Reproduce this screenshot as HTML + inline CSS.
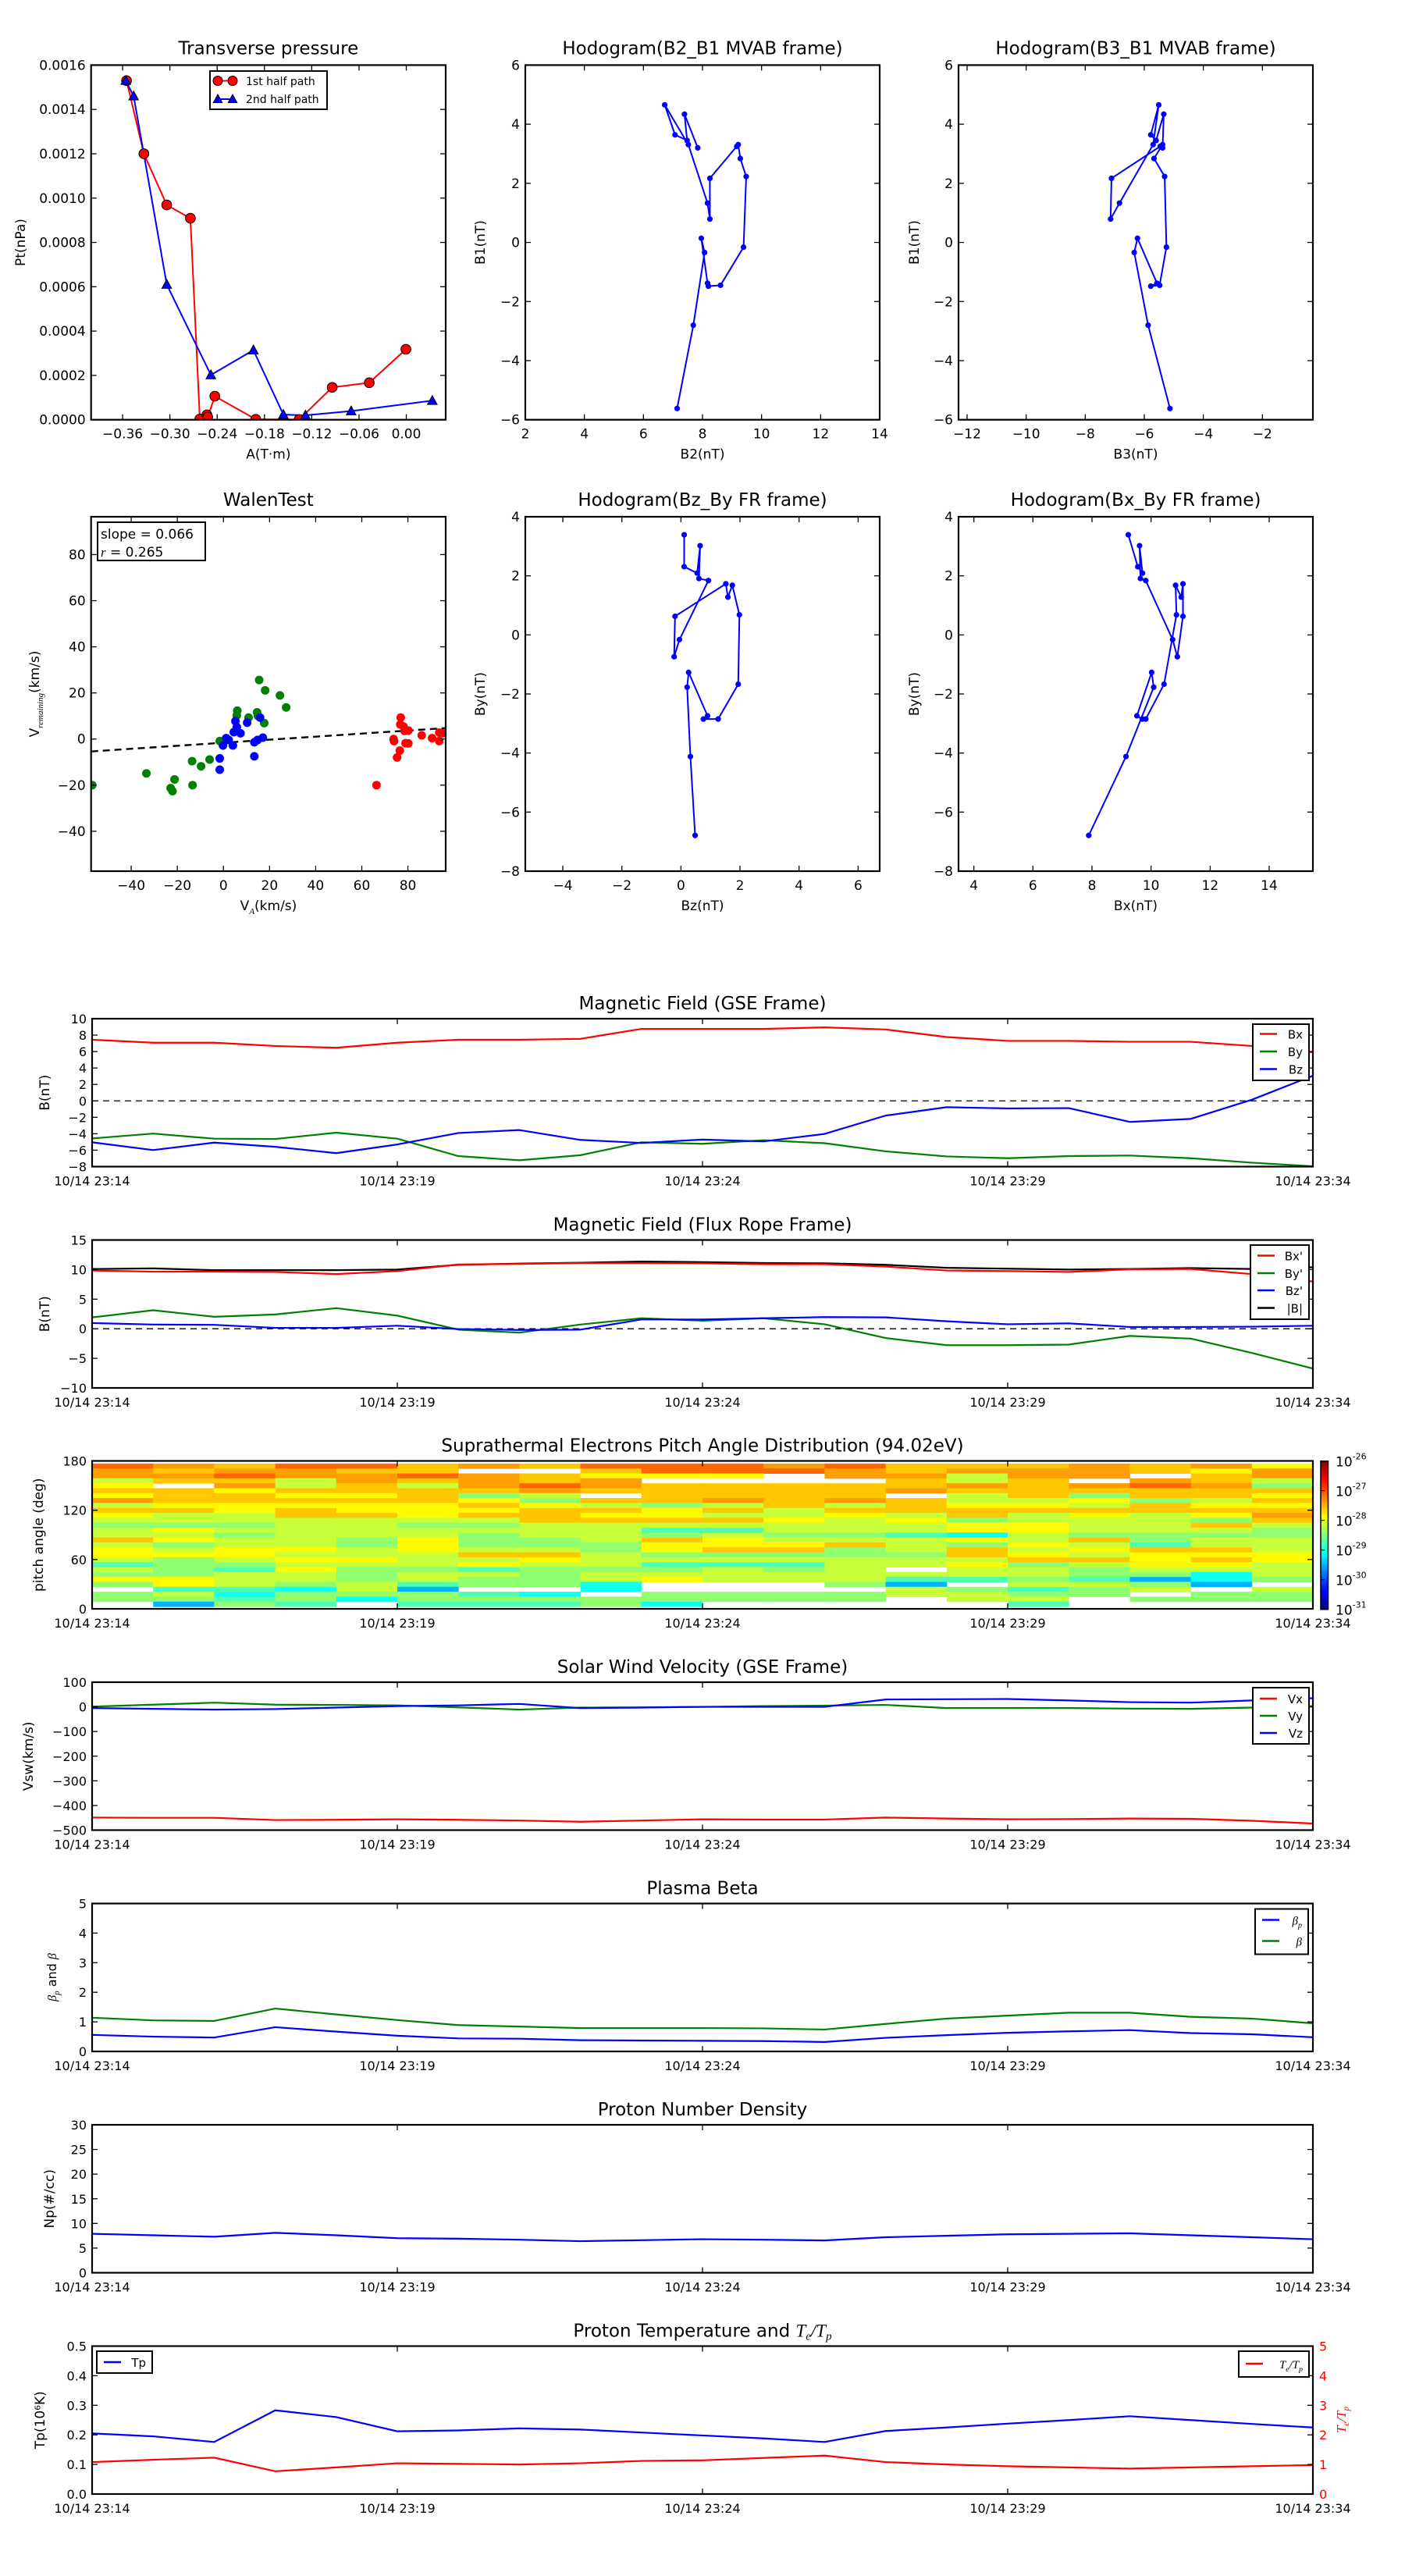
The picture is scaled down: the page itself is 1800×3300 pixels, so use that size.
<!DOCTYPE html>
<html><head><meta charset="utf-8"><title>Flux rope analysis</title>
<style>
html,body{margin:0;padding:0;background:#fff;}
svg{display:block;font-family:"DejaVu Sans","Liberation Sans",sans-serif;}
</style></head>
<body>
<svg id="fig" xmlns="http://www.w3.org/2000/svg" width="1800" height="3300" viewBox="0 0 1800 3300">
<defs>
<linearGradient id="jet" x1="0" y1="1" x2="0" y2="0">
<stop offset="0" stop-color="#00007f"/><stop offset="0.11" stop-color="#0000ff"/><stop offset="0.125" stop-color="#0000ff"/>
<stop offset="0.34" stop-color="#00dcff"/><stop offset="0.375" stop-color="#00ffff"/><stop offset="0.5" stop-color="#80ff80"/>
<stop offset="0.625" stop-color="#ffff00"/><stop offset="0.66" stop-color="#ffe000"/><stop offset="0.875" stop-color="#ff0000"/><stop offset="1" stop-color="#7f0000"/>
</linearGradient>
</defs>
</svg>
<script>
// ---------- data ----------
const tp1A=[-0.355,-0.333,-0.304,-0.274,-0.262,-0.253,-0.252,-0.243,-0.191,-0.136,-0.094,-0.047,-0.0005];
const tp1P=[0.00153,0.00120,0.000969,0.000909,0.000003,0.000022,0.000012,0.000106,0.000002,0.000001,0.000146,0.000167,0.000318];
const tp2A=[-0.356,-0.346,-0.304,-0.248,-0.194,-0.156,-0.128,-0.070,0.033];
const tp2P=[0.00153,0.00146,0.00061,0.000202,0.000314,0.000023,0.00002,0.000039,0.000086];
const mvB1=[-5.62,-2.80,-0.34,0.14,-1.38,-1.48,-1.45,-0.16,2.23,2.84,3.31,3.25,2.17,0.79,1.33,3.31,4.655,3.64,3.45,4.34,3.20];
const mvB2=[7.14,7.69,8.07,7.96,8.17,8.20,8.61,9.39,9.48,9.28,9.21,9.16,8.25,8.25,8.17,7.52,6.72,7.07,7.48,7.39,7.84];
const mvB3=[-5.13,-5.87,-6.34,-6.23,-5.57,-5.78,-5.48,-5.25,-5.31,-5.67,-5.38,-5.46,-7.11,-7.14,-6.84,-5.70,-5.51,-5.78,-5.60,-5.34,-5.38];
const frBz=[0.11,0.11,0.55,0.65,0.61,0.93,-0.05,-0.23,-0.20,1.52,1.59,1.74,1.98,1.94,1.26,0.76,0.90,0.26,0.21,0.32,0.48];
const frBy=[3.39,2.31,2.09,3.02,1.91,1.84,-0.16,-0.74,0.63,1.73,1.28,1.68,0.68,-1.67,-2.85,-2.85,-2.74,-1.27,-1.77,-4.12,-6.79];
const frBx=[9.23,9.55,9.71,9.61,9.64,9.82,10.73,10.89,11.08,11.08,11.02,10.83,10.86,10.44,9.82,9.70,9.52,10.02,10.09,9.15,7.89];
const wgX=[-56.9,-33.4,-22.9,-22.1,-21.2,-13.6,-13.4,-9.7,-6,-1.6,6,5.8,10.9,14.6,15.5,18.1,17.7,24.5,27.2,15];
const wgY=[-20,-14.9,-21.3,-22.6,-17.5,-9.6,-20,-11.8,-8.9,-0.9,12.3,10.3,9.3,11.6,25.6,21.1,6.9,18.9,13.7,10];
const wbX=[-1.6,-1.6,-0.2,1.2,2.3,4.1,4.5,5.2,7.4,10.3,13.4,13.4,14.8,15.9,17.1,5.8];
const wbY=[-8.4,-13.3,-2.8,0.4,-0.4,-2.8,3,7.8,2.5,7.1,-7.5,-1.4,-0.4,9.3,0.6,5.2];
const wrX=[66.4,73.8,74,75.3,76.5,76.9,76.7,78.1,78.6,79,80.2,80.2,86,90.5,93.6,93.6,95];
const wrY=[-20,0,-0.9,-8,-5,9.3,6.3,5.4,3.5,-1.8,3.7,-1.9,1.6,0.4,2.8,-0.9,2.5];
const walenSlope=[0.066];
const walenIntercept=[-1.6];
const minutes=[0,1,2,3,4,5,6,7,8,9,10,11,12,13,14,15,16,17,18,19,20];
const timeTicks=[0,5,10,15,20];
const timeLabels=['10/14 23:14','10/14 23:19','10/14 23:24','10/14 23:29','10/14 23:34'];
const gseBx=[7.44,7.08,7.08,6.68,6.46,7.08,7.44,7.44,7.55,8.76,8.76,8.76,8.94,8.69,7.77,7.30,7.30,7.19,7.19,6.68,5.91];
const gseBy=[-4.57,-3.98,-4.60,-4.64,-3.87,-4.60,-6.72,-7.23,-6.61,-5.04,-5.22,-4.79,-5.15,-6.14,-6.76,-6.98,-6.72,-6.65,-6.98,-7.52,-7.96];
const gseBz=[-5.04,-5.99,-5.08,-5.59,-6.36,-5.30,-3.91,-3.55,-4.75,-5.12,-4.71,-4.93,-4.02,-1.79,-0.77,-0.92,-0.88,-2.56,-2.19,0.14,3.06];
const frTBx=[9.85,9.65,9.65,9.6,9.24,9.75,10.86,10.96,11.11,11.11,11.06,10.91,10.91,10.51,9.85,9.75,9.6,10.05,10.1,9.24,7.98];
const frTBy=[1.92,3.13,2.02,2.42,3.48,2.22,-0.15,-0.66,0.71,1.77,1.36,1.77,0.76,-1.57,-2.78,-2.78,-2.68,-1.21,-1.67,-4.09,-6.72];
const frTBz=[0.96,0.71,0.66,0.15,0.15,0.51,-0.05,-0.2,-0.15,1.57,1.57,1.77,1.97,1.92,1.26,0.76,0.91,0.30,0.30,0.35,0.51];
const frTB=[10.1,10.2,9.9,9.9,9.9,10.0,10.81,11.01,11.16,11.36,11.26,11.11,11.06,10.81,10.3,10.15,10.0,10.1,10.25,10.1,10.4];
const swVx=[-449,-450,-450,-459,-458,-456,-458,-461,-466,-461,-456,-457,-457,-449,-453,-456,-455,-453,-454,-462,-473];
const swVy=[1,9,17,9,8,6,-2,-11,-3,-2,0,3,5,8,-5,-5,-5,-7,-8,-3,3];
const swVz=[-5,-8,-11,-9,-3,3,6,12,-5,-3,0,0,0,30,31,32,26,19,17,26,35];
const betaP=[0.56,0.50,0.47,0.82,0.67,0.53,0.44,0.43,0.38,0.37,0.36,0.35,0.32,0.46,0.55,0.63,0.68,0.72,0.62,0.58,0.48];
const betaT=[1.14,1.05,1.03,1.45,1.25,1.06,0.89,0.84,0.79,0.79,0.79,0.78,0.74,0.93,1.11,1.21,1.31,1.31,1.17,1.11,0.95];
const npVals=[7.9,7.6,7.3,8.1,7.6,7.0,6.9,6.7,6.4,6.6,6.8,6.7,6.55,7.2,7.5,7.8,7.9,8.0,7.6,7.2,6.8];
const tpVals=[0.205,0.195,0.176,0.283,0.26,0.212,0.215,0.222,0.218,0.208,0.198,0.188,0.176,0.213,0.225,0.238,0.25,0.263,0.25,0.237,0.225];
const teTpVals=[1.08,1.16,1.23,0.77,0.90,1.04,1.02,1.00,1.04,1.12,1.14,1.22,1.30,1.08,1.00,0.94,0.90,0.86,0.90,0.94,0.98];
const padBinTop=[176.8,170.8,164.8,158.8,152.8,146.8,140.8,134.8,128.8,122.8,116.8,110.8,104.8,98.8,92.8,86.8,80.8,74.8,68.8,62.8,56.8,50.8,44.8,38.8,32.8,26.8,20.8,14.8,8.8];
const padBinWidth=[6];
const padCodeLog={r:-27.12,o:-27.4,a:-27.6,y:-27.85,l:-28.15,g:-28.42,c:-28.75,t:-29.05,b:-29.5,w:NaN};
const padRows=[
"roarraoarrroraaaoaoy","oaooaawwarrroaoooayo","oorooroayyywooloowao","laaloaoaowwwwalawoal",
"ywolaloroaaaaaoaorog","aayaaaaoaaaaaoaaaaaa","yaayyaglwaaaawlagaay","oaaaaaygaaoaoallygla",
"lyyyyyaylglalayylayy","aayayyyaayalaaaaaaaa","yllaayaayyllylalylyo","lllllllaaaaylyglllga",
"gggllgglllllllyyllal","lylllllllcclllyylllg","llglllgllglggctlgggg","ayllgygglaylllylagll",
"lgllgygggyyyalgylcll","ylyylyllgyaaglalyaal","yyylllaalgggggaylyyy","lglyyllylllllllaayay",
"cgglllyllcccllyglyyl","lgcyggcggglglwllglll","ggllgllgllllllllggtl","yyllglgglylllccgcbtg",
"gylglcggtwwwgbwllgbw","wcctlbwwtwwwwlgcglwl","gltgggctwggggllggwgg","ggcgtggggggggwllwggg",
"wbgcwcccgtwwwwwcwwww"];
const cbTicks=[-31,-30,-29,-28,-27,-26];

// ---------- helpers ----------
const NS='http://www.w3.org/2000/svg';
const svg=document.getElementById('fig');
function E(tag,attrs,parent,name){
  const el=document.createElementNS(NS,tag);
  for(const k in attrs) el.setAttribute(k,attrs[k]);
  (parent||svg).appendChild(el);
  
  
  return el;
}
function T(x,y,str,size,anchor,parent,name,extra){
  const el=E('text',Object.assign({x:x,y:y,'font-size':size,'text-anchor':anchor||'middle',fill:'#000'},extra||{}),parent,name);
  el.textContent=str;
  return el;
}
function fmt(v,d){const s=Math.abs(v).toFixed(d);return (v<0&&Math.abs(v)>1e-12?'\u2212':'')+s;}
let clipId=0;
function axes(o){
  const g=E('g',{},svg,o.name);
  const sx=v=>o.x+(v-o.xlim[0])/(o.xlim[1]-o.xlim[0])*o.w;
  const sy=v=>o.y+o.h-(v-o.ylim[0])/(o.ylim[1]-o.ylim[0])*o.h;
  const cid='clip'+(clipId++);
  const cp=E('clipPath',{id:cid},g,'clip-region');
  E('rect',{x:o.x,y:o.y,width:o.w,height:o.h},cp,'clip-rect');
  const plot=E('g',{'clip-path':'url(#'+cid+')'},g,'plot-area');
  const frame=E('g',{},g,'axes-frame');
  const tl=7, fs=o.fs||17;
  o.xticks.forEach((v,i)=>{
    const X=sx(v);
    E('line',{x1:X,y1:o.y+o.h,x2:X,y2:o.y+o.h-tl,stroke:'#000','stroke-width':1.3},frame,'x-tick');
    E('line',{x1:X,y1:o.y,x2:X,y2:o.y+tl,stroke:'#000','stroke-width':1.3},frame,'x-tick-top');
    T(X,o.y+o.h+24,o.xlabels?o.xlabels[i]:fmt(v,o.xd||0),fs,'middle',frame,'x-tick-label');
  });
  o.yticks.forEach((v,i)=>{
    const Y=sy(v);
    E('line',{x1:o.x,y1:Y,x2:o.x+tl,y2:Y,stroke:'#000','stroke-width':1.3},frame,'y-tick');
    if(!o.noRightTicks) E('line',{x1:o.x+o.w,y1:Y,x2:o.x+o.w-tl,y2:Y,stroke:'#000','stroke-width':1.3},frame,'y-tick-right');
    T(o.x-7,Y+6,fmt(v,o.yd||0),fs,'end',frame,'y-tick-label');
  });
  E('rect',{x:o.x,y:o.y,width:o.w,height:o.h,fill:'none',stroke:'#000','stroke-width':2.2},frame,'axes-border');
  if(o.title) T(o.x+o.w/2,o.y-(o.titleOff||14),o.title,o.tfs||23,'middle',g,'chart-title');
  if(o.xlabel) T(o.x+o.w/2,o.y+o.h+(o.xlabOff||52),o.xlabel,17,'middle',g,'x-axis-title');
  if(o.ylabel){T(o.ylx,o.y+o.h/2,o.ylabel,17,'middle',g,'y-axis-title',{transform:'rotate(-90 '+o.ylx+' '+(o.y+o.h/2)+')'});}
  return {sx,sy,plot,g,frame,o};
}
function poly(ax,xs,ys,color,w,name,dash){
  const pts=xs.map((x,i)=>ax.sx(x).toFixed(2)+','+ax.sy(ys[i]).toFixed(2)).join(' ');
  const a={points:pts,fill:'none',stroke:color,'stroke-width':w||2,'stroke-linejoin':'round'};
  if(dash) a['stroke-dasharray']=dash;
  return E('polyline',a,ax.plot,name);
}
function dots(ax,xs,ys,color,r,name){
  xs.forEach((x,i)=>{E('circle',{cx:ax.sx(x),cy:ax.sy(ys[i]),r:r,fill:color},ax.plot,name);});
}
function tri(parent,x,y,s,name){
  return E('path',{d:`M${x},${y-s} L${x+s*0.95},${y+s*0.75} L${x-s*0.95},${y+s*0.75} Z`,fill:'#0000ff',stroke:'#000','stroke-width':1},parent,name);
}

// ---------- Row 1 ----------
const a1=axes({name:'transverse-pressure-chart',x:116.7,y:83.4,w:454.3,h:454.3,xlim:[-0.40,0.05],ylim:[0,0.0016],
 xticks:[-0.36,-0.30,-0.24,-0.18,-0.12,-0.06,0.00],xd:2,yticks:[0,0.0002,0.0004,0.0006,0.0008,0.0010,0.0012,0.0014,0.0016],yd:4,
 title:'Transverse pressure',xlabel:'A(T\u00b7m)',ylabel:'Pt(nPa)',ylx:32,xlabOff:50});
poly(a1,tp1A,tp1P,'#ff0000',2,'first-half-path-line');
poly(a1,tp2A,tp2P,'#0000ff',2,'second-half-path-line');
tp1A.forEach((x,i)=>{E('circle',{cx:a1.sx(x),cy:a1.sy(tp1P[i]),r:6.3,fill:'#ff0000',stroke:'#000','stroke-width':1},a1.plot,'first-half-marker');});
tp2A.forEach((x,i)=>{tri(a1.plot,a1.sx(x),a1.sy(tp2P[i]),6.5,'second-half-marker');});
(function(){
  const lg=E('g',{},a1.g,'legend');
  E('rect',{x:269,y:91,width:150,height:49,fill:'#fff',stroke:'#000','stroke-width':2},lg,'legend-box');
  E('line',{x1:279,y1:103.5,x2:298,y2:103.5,stroke:'#ff0000','stroke-width':2},lg,'legend-line-first');
  E('circle',{cx:279,cy:103.5,r:6,fill:'#ff0000',stroke:'#000','stroke-width':1},lg,'legend-marker-first');
  E('circle',{cx:298,cy:103.5,r:6,fill:'#ff0000',stroke:'#000','stroke-width':1},lg,'legend-marker-first');
  T(315,109,'1st half path',14,'start',lg,'legend-label-first');
  E('line',{x1:279,y1:127,x2:298,y2:127,stroke:'#0000ff','stroke-width':2},lg,'legend-line-second');
  tri(lg,279,127,6,'legend-marker-second');
  tri(lg,298,127,6,'legend-marker-second');
  T(315,132,'2nd half path',14,'start',lg,'legend-label-second');
})();

const a2=axes({name:'hodogram-b2-b1-chart',x:673,y:83.4,w:454,h:454.3,xlim:[2,14],ylim:[-6,6],
 xticks:[2,4,6,8,10,12,14],yticks:[-6,-4,-2,0,2,4,6],title:'Hodogram(B2_B1 MVAB frame)',xlabel:'B2(nT)',ylabel:'B1(nT)',ylx:621,xlabOff:50});
poly(a2,mvB2,mvB1,'#0000ff',2,'hodogram-line');
dots(a2,mvB2,mvB1,'#0000ff',3.6,'hodogram-point');

const a3=axes({name:'hodogram-b3-b1-chart',x:1228,y:83.4,w:454,h:454.3,xlim:[-12.29,-0.29],ylim:[-6,6],
 xticks:[-12,-10,-8,-6,-4,-2],yticks:[-6,-4,-2,0,2,4,6],title:'Hodogram(B3_B1 MVAB frame)',xlabel:'B3(nT)',ylabel:'B1(nT)',ylx:1177,xlabOff:50});
poly(a3,mvB3,mvB1,'#0000ff',2,'hodogram-line');
dots(a3,mvB3,mvB1,'#0000ff',3.6,'hodogram-point');

// ---------- Row 2 ----------
const a4=axes({name:'walen-test-chart',x:116.7,y:662,w:454.3,h:454,xlim:[-57.4,96.4],ylim:[-57.3,96.4],
 xticks:[-40,-20,0,20,40,60,80],yticks:[-40,-20,0,20,40,60,80],title:'WalenTest',xlabOff:50});
(function(){
  const x0=a4.o.xlim[0], x1=a4.o.xlim[1];
  const ys=[x0,x1].map(x=>walenSlope[0]*x+walenIntercept[0]);
  poly(a4,[x0,x1],ys,'#000',2.4,'walen-fit-line','9,6');
  dots(a4,wgX,wgY,'#008000',5.5,'walen-point-green');
  dots(a4,wbX,wbY,'#0000ff',5.5,'walen-point-blue');
  dots(a4,wrX,wrY,'#ff0000',5.5,'walen-point-red');
  const bx=E('g',{},a4.g,'walen-stats-box');
  E('rect',{x:125,y:669,width:138,height:49,fill:'#fff',stroke:'#000','stroke-width':2},bx,'stats-box-border');
  T(129,690,'slope = 0.066',17,'start',bx,'slope-label');
  const r=T(129,713,'',17,'start',bx,'r-label');
  const t1=E('tspan',{'font-family':'"Liberation Serif",serif','font-style':'italic'},r,'r-symbol'); t1.textContent='r';
  const t2=E('tspan',{},r,'r-value'); t2.textContent=' = 0.265';
  const yl=T(50,889,'',17,'middle',a4.g,'y-axis-title',{transform:'rotate(-90 50 889)'});
  const s1=E('tspan',{},yl,'ylabel-v'); s1.textContent='V';
  const s2=E('tspan',{'font-size':11,'font-family':'"Liberation Serif",serif','font-style':'italic',dy:5},yl,'ylabel-sub'); s2.textContent='remaining';
  const s3=E('tspan',{dy:-5},yl,'ylabel-unit'); s3.textContent='(km/s)';
  const xl=T(344,1166,'',17,'middle',a4.g,'x-axis-title');
  const u1=E('tspan',{},xl,'xlabel-v'); u1.textContent='V';
  const u2=E('tspan',{'font-size':11,'font-family':'"Liberation Serif",serif','font-style':'italic',dy:5},xl,'xlabel-sub'); u2.textContent='A';
  const u3=E('tspan',{dy:-5},xl,'xlabel-unit'); u3.textContent='(km/s)';
})();

const a5=axes({name:'hodogram-bz-by-chart',x:673,y:662,w:454,h:454,xlim:[-5.27,6.73],ylim:[-8,4],
 xticks:[-4,-2,0,2,4,6],yticks:[-8,-6,-4,-2,0,2,4],title:'Hodogram(Bz_By FR frame)',xlabel:'Bz(nT)',ylabel:'By(nT)',ylx:621,xlabOff:50});
poly(a5,frBz,frBy,'#0000ff',2,'hodogram-line');
dots(a5,frBz,frBy,'#0000ff',3.6,'hodogram-point');

const a6=axes({name:'hodogram-bx-by-chart',x:1228,y:662,w:454,h:454,xlim:[3.48,15.48],ylim:[-8,4],
 xticks:[4,6,8,10,12,14],yticks:[-8,-6,-4,-2,0,2,4],title:'Hodogram(Bx_By FR frame)',xlabel:'Bx(nT)',ylabel:'By(nT)',ylx:1177,xlabOff:50});
poly(a6,frBx,frBy,'#0000ff',2,'hodogram-line');
dots(a6,frBx,frBy,'#0000ff',3.6,'hodogram-point');

// ---------- time series ----------
function tAxes(name,top,ylim,yticks,yd,title,ylabel,ylx,extra){
  return axes(Object.assign({name:name,x:118,y:top,w:1564,h:189.5,xlim:[0,20],ylim:ylim,xticks:timeTicks,xlabels:timeLabels,
    yticks:yticks,yd:yd,title:title,ylabel:ylabel,ylx:ylx,fs:16,titleOff:12,tfs:23},extra||{}));
}
function legend(parent,x,y,w,h,items,name){
  const lg=E('g',{},parent,name);
  E('rect',{x:x,y:y,width:w,height:h,fill:'#fff',stroke:'#000','stroke-width':2},lg,'legend-box');
  items.forEach(it=>{
    E('line',{x1:x+9,y1:it.y,x2:x+31,y2:it.y,stroke:it.c,'stroke-width':2.4},lg,'legend-swatch');
    const t=T(x+w-8,it.y+6,'',15,'end',lg,'legend-label');
    if(it.html){it.html(t);} else t.textContent=it.t;
  });
  return lg;
}
function italicFrac(t,a,b,fill){
  const s1=E('tspan',{'font-family':'"Liberation Serif",serif','font-style':'italic',fill:fill||'#000'},t,'math-T'); s1.textContent='T';
  const s2=E('tspan',{'font-family':'"Liberation Serif",serif','font-style':'italic','font-size':'0.65em',dy:4,fill:fill||'#000'},t,'math-sub'); s2.textContent=a;
  const s3=E('tspan',{'font-family':'"Liberation Serif",serif','font-style':'italic',dy:-4,fill:fill||'#000'},t,'math-slash'); s3.textContent='/T';
  const s4=E('tspan',{'font-family':'"Liberation Serif",serif','font-style':'italic','font-size':'0.65em',dy:4,fill:fill||'#000'},t,'math-sub'); s4.textContent=b;
}

const g1=tAxes('magnetic-field-gse-chart',1305,[-8,10],[-8,-6,-4,-2,0,2,4,6,8,10],0,'Magnetic Field (GSE Frame)','B(nT)',63);
poly(g1,[0,20],[0,0],'#000',1.3,'zero-line','8,6');
poly(g1,minutes,gseBx,'#ff0000',2.2,'series-bx');
poly(g1,minutes,gseBy,'#008000',2.2,'series-by');
poly(g1,minutes,gseBz,'#0000ff',2.2,'series-bz');
legend(g1.g,1605,1312,72,72,[{y:1324.5,c:'#ff0000',t:'Bx'},{y:1347,c:'#008000',t:'By'},{y:1369.5,c:'#0000ff',t:'Bz'}],'gse-legend');

const g2=tAxes('magnetic-field-fluxrope-chart',1588.5,[-10,15],[-10,-5,0,5,10,15],0,'Magnetic Field (Flux Rope Frame)','B(nT)',63);
poly(g2,[0,20],[0,0],'#000',1.3,'zero-line','8,6');
poly(g2,minutes,frTB,'#000',2.2,'series-btotal');
poly(g2,minutes,frTBx,'#ff0000',2.2,'series-bx-prime');
poly(g2,minutes,frTBy,'#008000',2.2,'series-by-prime');
poly(g2,minutes,frTBz,'#0000ff',2.2,'series-bz-prime');
legend(g2.g,1602,1595,75,95,[{y:1608.5,c:'#ff0000',t:"Bx'"},{y:1631,c:'#008000',t:"By'"},{y:1653,c:'#0000ff',t:"Bz'"},{y:1675.5,c:'#000',t:'|B|'}],'fr-legend');

const g3=tAxes('pitch-angle-distribution-chart',1871.5,[0,180],[0,60,120,180],0,'Suprathermal Electrons Pitch Angle Distribution (94.02eV)','pitch angle (deg)',55);
(function(){
  function jet(t){const c=v=>Math.max(0,Math.min(1,v));
    const r=c(1.5-Math.abs(4*t-3)),g=c(1.5-Math.abs(4*t-2)),b=c(1.5-Math.abs(4*t-1));
    return 'rgb('+Math.round(r*255)+','+Math.round(g*255)+','+Math.round(b*255)+')';}
  padRows.forEach((row,ri)=>{
    for(let ci=0;ci<row.length;ci++){
      const lv=padCodeLog[row[ci]];
      if(isNaN(lv)) continue;
      const x0=g3.sx(minutes[ci]), x1=g3.sx(minutes[ci+1]);
      const yTop=g3.sy(padBinTop[ri]), yBot=g3.sy(padBinTop[ri]-padBinWidth[0]);
      E('rect',{x:x0,y:yTop,width:x1-x0+0.5,height:yBot-yTop+0.5,fill:jet((lv+31)/5)},g3.plot,'pad-cell');
    }
  });
  g3.g.appendChild(g3.frame);
  const cb=E('g',{},svg,'colorbar');
  const cbTop=1871.7, cbBot=2061.7;
  E('rect',{x:1692,y:cbTop,width:9.5,height:cbBot-cbTop,fill:'url(#jet)',stroke:'#000','stroke-width':1.5},cb,'colorbar-gradient');
  cbTicks.forEach(v=>{
    const Y=cbBot-(v+31)/5*(cbBot-cbTop);
    E('line',{x1:1692,y1:Y,x2:1697,y2:Y,stroke:'#000','stroke-width':1},cb,'colorbar-tick');
    const t=T(1711,Y+7,'10',17,'start',cb,'colorbar-label');
    const s=E('tspan',{'font-size':11,dy:-9},t,'colorbar-exponent'); s.textContent='-'+Math.abs(v);
  });
})();

const g4=tAxes('solar-wind-velocity-chart',2155,[-500,100],[-500,-400,-300,-200,-100,0,100],0,'Solar Wind Velocity (GSE Frame)','Vsw(km/s)',42);
poly(g4,minutes,swVx,'#ff0000',2.2,'series-vx');
poly(g4,minutes,swVy,'#008000',2.2,'series-vy');
poly(g4,minutes,swVz,'#0000ff',2.2,'series-vz');
legend(g4.g,1605,2162,72,72,[{y:2176,c:'#ff0000',t:'Vx'},{y:2198,c:'#008000',t:'Vy'},{y:2220,c:'#0000ff',t:'Vz'}],'sw-legend');

const g5=tAxes('plasma-beta-chart',2438.5,[0,5],[0,1,2,3,4,5],0,'Plasma Beta','',72);
poly(g5,minutes,betaP,'#0000ff',2.2,'series-beta-p');
poly(g5,minutes,betaT,'#008000',2.2,'series-beta');
(function(){
  const yl=T(72,2533,'',16,'middle',g5.g,'y-axis-title',{transform:'rotate(-90 72 2533)'});
  const a=E('tspan',{'font-family':'"Liberation Serif",serif','font-style':'italic'},yl,'beta-symbol');a.textContent='\u03b2';
  const b=E('tspan',{'font-family':'"Liberation Serif",serif','font-style':'italic','font-size':11,dy:4},yl,'beta-sub');b.textContent='p';
  const c=E('tspan',{dy:-4},yl,'and-text');c.textContent=' and ';
  const d=E('tspan',{'font-family':'"Liberation Serif",serif','font-style':'italic'},yl,'beta-symbol');d.textContent='\u03b2';
  legend(g5.g,1608,2445.5,68,58,[{y:2459.5,c:'#0000ff',html:t=>{const s=E('tspan',{'font-family':'"Liberation Serif",serif','font-style':'italic'},t,'beta-p-label');s.textContent='\u03b2';const q=E('tspan',{'font-family':'"Liberation Serif",serif','font-style':'italic','font-size':10,dy:4},t,'beta-p-sub');q.textContent='p';}},
    {y:2486.5,c:'#008000',html:t=>{const s=E('tspan',{'font-family':'"Liberation Serif",serif','font-style':'italic'},t,'beta-label');s.textContent='\u03b2';}}],'beta-legend');
})();

const g6=tAxes('proton-density-chart',2722,[0,30],[0,5,10,15,20,25,30],0,'Proton Number Density','Np(#/cc)',69);
poly(g6,minutes,npVals,'#0000ff',2.2,'series-np');

const g7=tAxes('proton-temperature-chart',3005.5,[0,0.5],[0,0.1,0.2,0.3,0.4,0.5],1,'','Tp(10\u2076K)',57,{noRightTicks:true});
(function(){
  const sy2=v=>g7.o.y+g7.o.h-v/5*g7.o.h;
  poly(g7,minutes,tpVals,'#0000ff',2.2,'series-tp');
  const pts=minutes.map((m,i)=>g7.sx(m).toFixed(2)+','+sy2(teTpVals[i]).toFixed(2)).join(' ');
  E('polyline',{points:pts,fill:'none',stroke:'#ff0000','stroke-width':2.2},g7.plot,'series-te-tp');
  [0,1,2,3,4,5].forEach(v=>{
    const Y=sy2(v);
    E('line',{x1:1682,y1:Y,x2:1675,y2:Y,stroke:'#000','stroke-width':1.3},g7.frame,'y2-tick');
    T(1690,Y+6,String(v),16,'start',g7.frame,'y2-tick-label',{fill:'#ff0000'});
  });
  const tt=T(900,2993.5,'Proton Temperature and ',23,'middle',g7.g,'chart-title');
  italicFrac(tt,'e','p');
  const yr=T(1724,3100,'',17,'middle',g7.g,'y2-axis-title',{transform:'rotate(-90 1724 3100)',fill:'#ff0000'});
  italicFrac(yr,'e','p','#ff0000');
  legend(g7.g,124,3012,71,28,[{y:3026,c:'#0000ff',t:'Tp'}],'tp-legend');
  legend(g7.g,1587,3012,90,33,[{y:3028,c:'#ff0000',html:t=>italicFrac(t,'e','p')}],'te-tp-legend');
})();
</script>
</body></html>
